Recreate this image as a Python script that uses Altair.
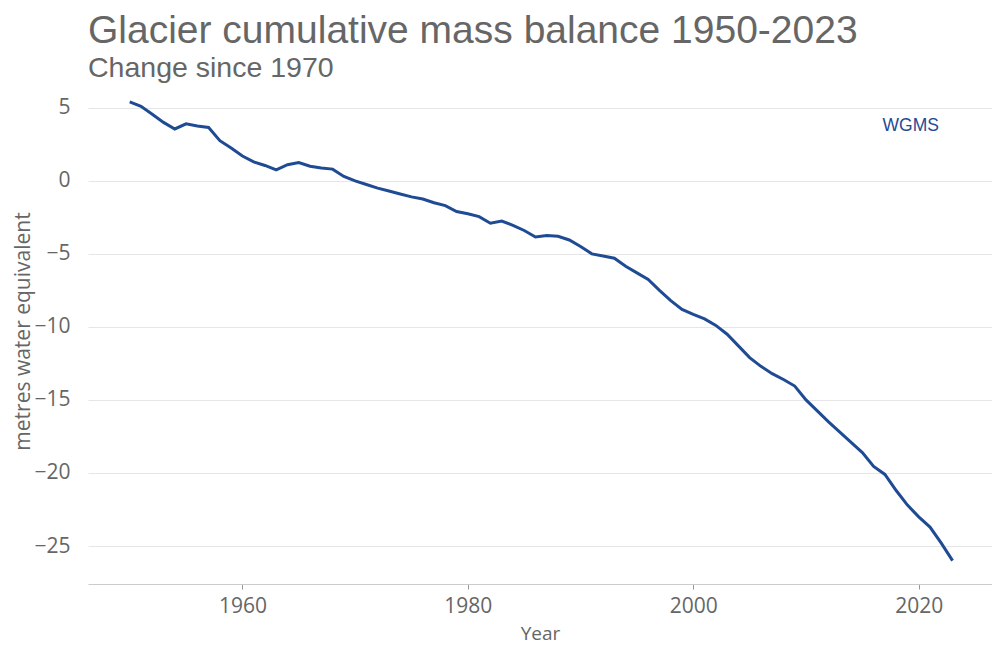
import altair as alt
import pandas as pd

years = list(range(1950, 2024))
balance = [
    5.4, 5.1, 4.55, 4.0, 3.55, 3.9, 3.75, 3.65, 2.75, 2.25,
    1.7, 1.3, 1.05, 0.75, 1.1, 1.25, 1.0, 0.88, 0.8, 0.3,
    0.0, -0.25, -0.5, -0.7, -0.9, -1.1, -1.25, -1.5, -1.7, -2.1,
    -2.25, -2.45, -2.9, -2.75, -3.05, -3.4, -3.85, -3.75, -3.8, -4.05,
    -4.5, -5.0, -5.15, -5.3, -5.85, -6.3, -6.75, -7.5, -8.2, -8.8,
    -9.15, -9.45, -9.9, -10.5, -11.3, -12.1, -12.7, -13.2, -13.6, -14.05,
    -15.0, -15.75, -16.5, -17.2, -17.9, -18.6, -19.55, -20.1, -21.2, -22.2,
    -23.0, -23.7, -24.8, -26.0,
]
series = ["WGMS"] * len(years)
x_ticks = [1960, 1980, 2000, 2020]
y_ticks = [-25, -20, -15, -10, -5, 0, 5]

df = pd.DataFrame({"Year": years, "value": balance, "dataset": series})

FONT = "Liberation Sans"
LFONT = "Open Sans"
GREY = "#666666"
BLUE = "#1f4b94"

chart = (
    alt.Chart(df)
    .mark_line(strokeWidth=3)
    .encode(
        x=alt.X(
            "Year:Q",
            scale=alt.Scale(domain=[1946.3, 2026.5], nice=False, zero=False),
            axis=alt.Axis(
                values=x_ticks,
                format="d",
                grid=False,
                domainColor="#cccccc",
                tickColor="#999999",
                tickSize=5,
                labelFontSize=21,
                labelColor=GREY,
                labelFont=LFONT,
                labelPadding=6,
                title="Year",
                titleFontSize=19,
                titleFontWeight="normal",
                titleColor=GREY,
                titleFont=LFONT,
                titlePadding=8,
            ),
        ),
        y=alt.Y(
            "value:Q",
            scale=alt.Scale(domain=[-27.6, 5.6], nice=False, zero=False),
            axis=alt.Axis(
                values=y_ticks,
                domain=False,
                ticks=False,
                grid=True,
                gridColor="#e6e6e6",
                labelFontSize=21,
                labelColor=GREY,
                labelFont=LFONT,
                labelPadding=18,
                title="metres water equivalent",
                titleFontSize=21,
                titleFontWeight="normal",
                titleColor=GREY,
                titleFont=LFONT,
                titleX=-55,
                titleY=232,
            ),
        ),
        color=alt.Color(
            "dataset:N",
            scale=alt.Scale(domain=["WGMS"], range=[BLUE]),
            legend=alt.Legend(
                title=None,
                orient="none",
                legendX=777,
                legendY=18,
                symbolOpacity=0,
                symbolSize=0,
                labelOffset=0,
                labelFontSize=17.5,
                labelColor=BLUE,
                labelFont=FONT,
            ),
        ),
    )
    .properties(
        width=904,
        height=485,
        background="white",
        autosize=alt.AutoSizeParams(type="none"),
        padding={"left": 80, "top": 91, "right": 0, "bottom": 65},
        title=alt.TitleParams(
            text="Glacier cumulative mass balance 1950-2023",
            subtitle="Change since 1970",
            anchor="start",
            frame="group",
            font=FONT,
            fontSize=39,
            fontWeight="normal",
            color=GREY,
            subtitleFont=FONT,
            subtitleFontSize=28.5,
            subtitleColor=GREY,
            subtitlePadding=3,
            offset=13,
        ),
    )
    .configure_view(stroke=None)
)

chart.save("out.html", embed_options={"renderer": "svg", "actions": False})
